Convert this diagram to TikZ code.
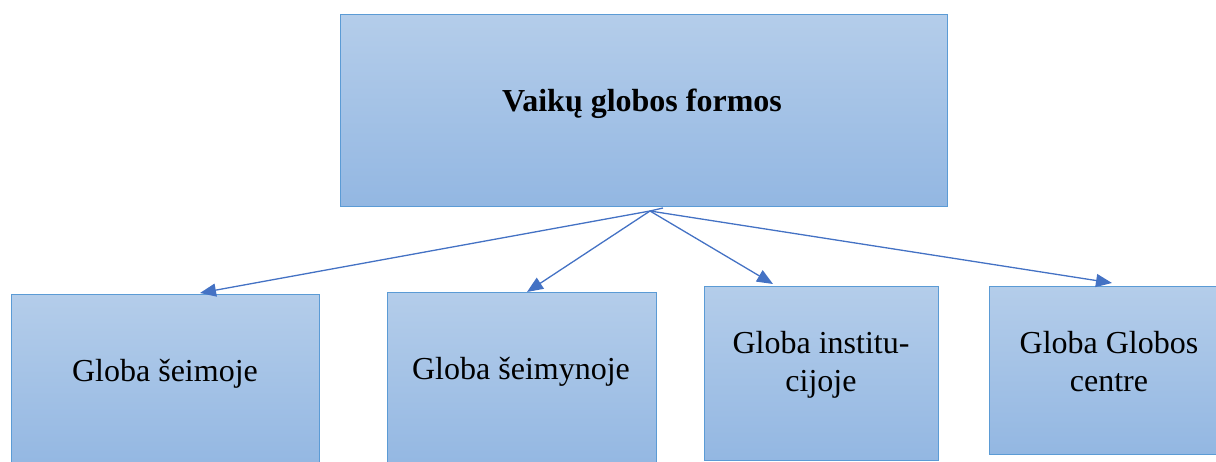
\documentclass[tikz,border=0pt]{standalone}
\usepackage{fontspec}
\setmainfont{Liberation Serif}
\usetikzlibrary{arrows.meta,positioning}
\definecolor{boxtop}{HTML}{B4CDEA}
\definecolor{boxbot}{HTML}{93B7E2}
\definecolor{boxline}{HTML}{5B9BD5}
\definecolor{arrowc}{HTML}{4472C4}
\begin{document}
\begin{tikzpicture}[x=1pt,y=-1pt,
  box/.style={draw=boxline,line width=1pt,top color=boxtop,bottom color=boxbot,shading angle=0,inner sep=0pt,anchor=north west},
  lbl/.style={font=\fontsize{32}{38}\selectfont,align=center,inner sep=0pt},
  conn/.style={draw=arrowc,line width=1.3pt,-{Triangle[length=16pt,width=13pt]}}]
\clip (0,0) rectangle (1216,462);
\node[box,minimum width=607pt,minimum height=192pt] (top) at (340,14) {};
\node[box,minimum width=308pt,minimum height=175pt] (b1) at (11,294) {};
\node[box,minimum width=269pt,minimum height=177pt] (b2) at (387,292) {};
\node[box,minimum width=234pt,minimum height=174pt] (b3) at (704,286) {};
\node[box,minimum width=227pt,minimum height=168pt] (b4) at (989,286) {};
\node[lbl,font=\fontsize{32}{38}\selectfont\bfseries] (t0) at (642,104) {Vaikų globos formos};
\node[lbl] (t1) at (165,374) {Globa šeimoje};
\node[lbl] (t2) at (521,372) {Globa šeimynoje};
\node[lbl] (t3) at (821,365) {Globa institu-\\cijoje};
\node[lbl] (t4) at (1109,362) {Globa Globos\\centre};
\coordinate (o) at (650,211);
\coordinate (o2) at (663,208);
\coordinate (e1) at (200,293);
\coordinate (e2) at (527,292);
\coordinate (e3) at (773,284);
\coordinate (e4) at (1112,283);
\draw[draw=arrowc,line width=1.3pt] (o) -- (o2);
\draw[conn] (o) -- (e1);
\draw[conn] (o) -- (e2);
\draw[conn] (o) -- (e3);
\draw[conn] (o) -- (e4);
\end{tikzpicture}
\end{document}
